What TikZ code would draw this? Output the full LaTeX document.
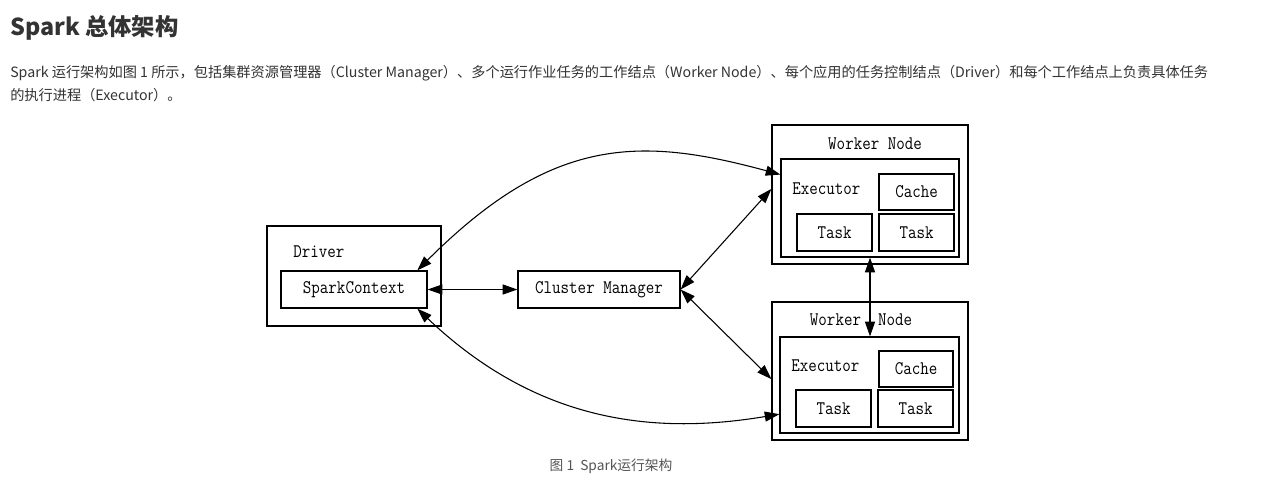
\documentclass[tikz,border=0pt]{standalone}
\usepackage{fontspec}
\setmainfont{Latin Modern Roman}
\newfontfamily\cjk{Noto Sans CJK SC}
\newfontfamily\monof{Latin Modern Mono}[FakeStretch=0.86]
\usetikzlibrary{arrows.meta,calc}
\definecolor{txt}{HTML}{333333}
\definecolor{cap}{HTML}{555555}
\tikzset{
  bx/.style n args={2}{draw, line width=0.9pt, minimum width=#1*0.75pt, minimum height=#2*0.75pt, inner sep=0pt, font=\monof\fontsize{14.4}{16}\selectfont},
  lbl/.style={inner sep=0pt, font=\monof\fontsize{14.4}{16}\selectfont},
  conn/.style={line width=0.8pt, {Triangle[length=11pt,width=7.5pt]}-{Triangle[length=11pt,width=7.5pt]}},
}
\begin{document}
\begin{tikzpicture}[x=0.75pt,y=-0.75pt]
\useasboundingbox[fill=white] (0,0) rectangle (1262,490);
% header text
\node[anchor=base west, inner sep=0pt, text=txt, font=\cjk\bfseries\fontsize{17.5}{20}\selectfont] (title) at (10,35) {Spark 总体架构};
\node[anchor=base west, inner sep=0pt, text=txt, font=\cjk\fontsize{10.65}{13}\selectfont] (l1) at (10,77) {Spark 运行架构如图 1 所示，包括集群资源管理器（Cluster Manager）、多个运行作业任务的工作结点（Worker Node）、每个应用的任务控制结点（Driver）和每个工作结点上负责具体任务};
\node[anchor=base west, inner sep=0pt, text=txt, font=\cjk\fontsize{10.65}{13}\selectfont] (l2) at (10,100) {的执行进程（Executor）。};
\node[anchor=base, inner sep=0pt, text=cap, font=\cjk\fontsize{10.3}{12}\selectfont] (caption) at (611,470.5) {图 1\ \ Spark运行架构};
% driver
\node[bx={174}{100}] (drv) at (354,276) {};
\node[lbl, anchor=west] (drvl) at (293,252) {Driver};
\node[bx={146}{37}] (sc) at (354,289.5) {SparkContext};
\node[bx={162}{37}] (cm) at (599,289.5) {Cluster Manager};
% worker 1
\node[bx={196}{139}] (w1) at (870,194.5) {};
\node[lbl] (w1l) at (875,144) {Worker Node};
\node[bx={178}{98}] (e1) at (870,208) {};
\node[lbl, anchor=west] (e1l) at (792,189) {Executor};
\node[bx={75}{36}] (c1) at (916.5,192) {Cache};
\node[bx={75}{37}] (t1a) at (834.5,232.5) {Task};
\node[bx={75}{37}] (t1b) at (916.5,232.5) {Task};
% worker 2
\node[bx={196}{138}] (w2) at (870,371) {};
\node[lbl] (w2l) at (861,320) {Worker\ \ Node};
\node[bx={179}{96}] (e2) at (869.5,385) {};
\node[lbl, anchor=west] (e2l) at (791,366) {Executor};
\node[bx={74}{36}] (c2) at (916,369) {Cache};
\node[bx={75}{37}] (t2a) at (833.5,408.5) {Task};
\node[bx={75}{37}] (t2b) at (915.5,408.5) {Task};
% connectors
\draw[conn] (sc.east) -- (cm.west);
\draw[conn] (cm.east) -- ($(w1.north west)!0.46!(w1.south west)$);
\draw[conn] (cm.east) -- ($(w2.north west)!0.558!(w2.south west)$);
\draw[conn] (e1.south) -- (e1.south |- e2.north);
\draw[conn] ($(sc.north west)!0.93!(sc.north east)$) .. controls +(135,-135) and +(-140,-38) .. ($(e1.north west)!0.163!(e1.south west)$);
\draw[conn] ($(sc.south west)!0.93!(sc.south east)$) .. controls +(123,117) and +(-120,20) .. ($(e2.north west)!0.8!(e2.south west)$);
\end{tikzpicture}
\end{document}
